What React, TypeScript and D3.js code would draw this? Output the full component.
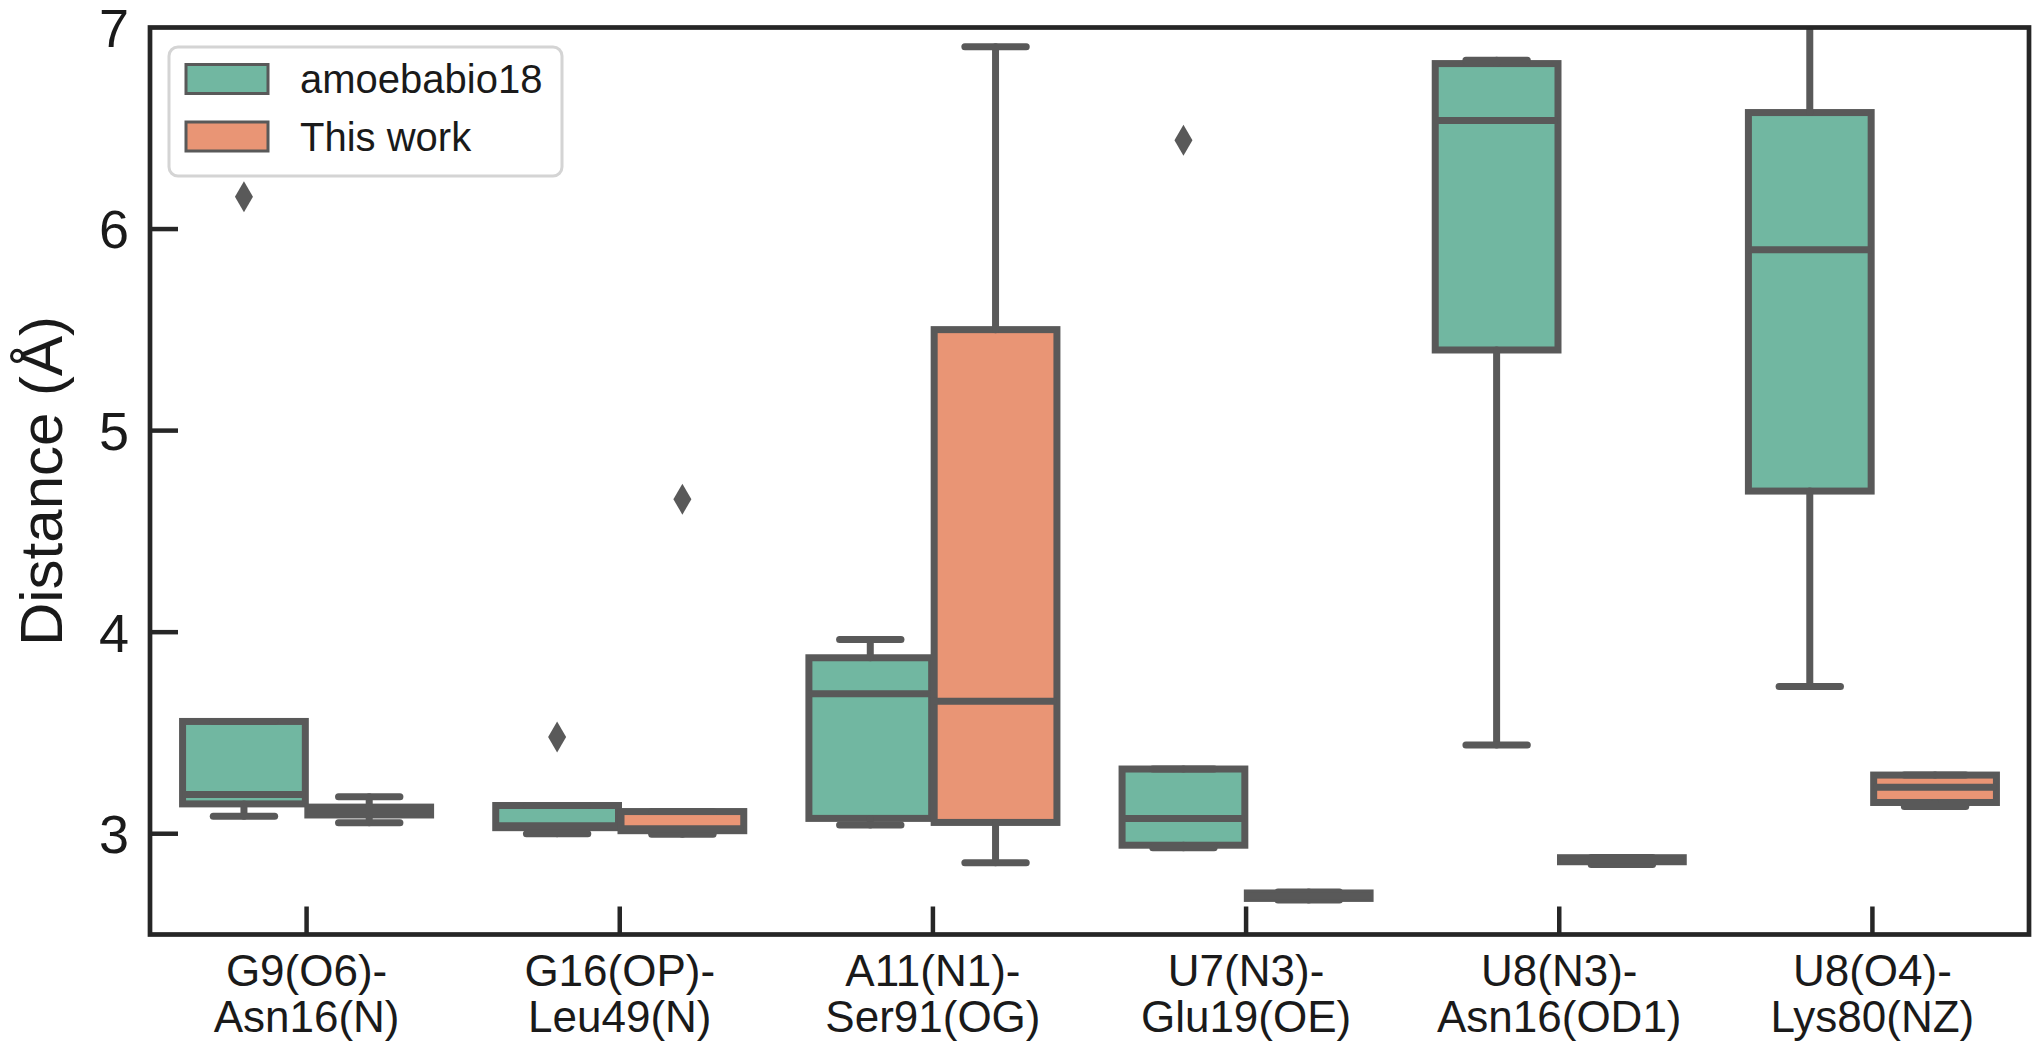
import React from "react";
import * as d3 from "d3";

// ---------- data ----------
const categories = [
  "G9(O6)-\nAsn16(N)",
  "G16(OP)-\nLeu49(N)",
  "A11(N1)-\nSer91(OG)",
  "U7(N3)-\nGlu19(OE)",
  "U8(N3)-\nAsn16(OD1)",
  "U8(O4)-\nLys80(NZ)",
];
const seriesNames = ["amoebabio18", "This work"];

const amoebaWhiskerLow = [3.087, 3.0, 3.043, 2.93, 3.44, 3.73];
const amoebaQ1 = [3.148, 3.03, 3.076, 2.943, 5.4, 4.7];
const amoebaMedian = [3.195, 3.04, 3.694, 3.076, 6.538, 5.897];
const amoebaQ3 = [3.557, 3.14, 3.873, 3.321, 6.821, 6.578];
const amoebaWhiskerHigh = [3.557, 3.14, 3.963, 3.321, 6.837, 7.4];
const amoebaOutliers = [[6.16], [3.48], [], [6.44], [], []];

const thisWorkWhiskerLow = [3.054, 2.998, 2.856, 2.671, 2.847, 3.135];
const thisWorkQ1 = [3.093, 3.015, 3.056, 2.679, 2.861, 3.155];
const thisWorkMedian = [3.11, 3.025, 3.657, 2.69, 2.87, 3.231];
const thisWorkQ3 = [3.132, 3.11, 5.501, 2.706, 2.881, 3.291];
const thisWorkWhiskerHigh = [3.183, 3.11, 6.904, 2.711, 2.882, 3.291];
const thisWorkOutliers = [[], [4.66], [], [], [], []];

const yTicks = [3, 4, 5, 6, 7];
const yDomain = [2.5, 7];
const yLabel = "Distance (Å)";

// ---------- styles ----------
const W = 2040;
const H = 1049;
const M = { left: 150, right: 2029, top: 27.5, bottom: 934.5 };
const COLORS = ["#71b7a1", "#e99575"];
const GRAY = "#595959";
const SPINE = "#262626";
const LW = 7;
const FONT = "'Liberation Sans', Arial, Helvetica, sans-serif";

type BoxStat = {
  cat: string;
  lo: number;
  q1: number;
  med: number;
  q3: number;
  hi: number;
  out: number[];
};

const series: BoxStat[][] = [
  categories.map((c, i) => ({
    cat: c,
    lo: amoebaWhiskerLow[i],
    q1: amoebaQ1[i],
    med: amoebaMedian[i],
    q3: amoebaQ3[i],
    hi: amoebaWhiskerHigh[i],
    out: amoebaOutliers[i],
  })),
  categories.map((c, i) => ({
    cat: c,
    lo: thisWorkWhiskerLow[i],
    q1: thisWorkQ1[i],
    med: thisWorkMedian[i],
    q3: thisWorkQ3[i],
    hi: thisWorkWhiskerHigh[i],
    out: thisWorkOutliers[i],
  })),
];

export default function App() {
  const x = d3.scaleBand<string>().domain(categories).range([M.left, M.right]).padding(0);
  const y = d3.scaleLinear().domain(yDomain).range([M.bottom, M.top]);
  const bw = x.bandwidth();
  const hue = d3
    .scaleBand<number>()
    .domain([0, 1])
    .range([-0.4 * bw, 0.4 * bw]);
  const boxW = hue.bandwidth() * 0.98;
  const diamond = "M0,-15.5 L9,0 L0,15.5 L-9,0 Z";

  return (
    <svg
      width={W}
      height={H}
      style={{ position: "absolute", left: 0, top: 0, display: "block", background: "#fff" }}
    >
      <defs>
        <clipPath id="plotclip">
          <rect x={M.left} y={M.top} width={M.right - M.left} height={M.bottom - M.top} />
        </clipPath>
      </defs>
      <rect x={0} y={0} width={W} height={H} fill="#fff" />

      {/* boxes */}
      <g clipPath="url(#plotclip)">
        {series.map((s, si) =>
          s.map((d, i) => {
            const cx = (x(d.cat) as number) + bw / 2 + (hue(si) as number) + hue.bandwidth() / 2;
            const x0 = cx - boxW / 2;
            const x1 = cx + boxW / 2;
            const capHalf = boxW / 4;
            return (
              <g key={`${si}-${i}`}>
                <rect
                  x={x0}
                  y={y(d.q3)}
                  width={boxW}
                  height={y(d.q1) - y(d.q3)}
                  fill={COLORS[si]}
                  stroke={GRAY}
                  strokeWidth={LW}
                />
                <line x1={cx} x2={cx} y1={y(d.q3)} y2={y(d.hi)} stroke={GRAY} strokeWidth={LW} strokeLinecap="round" />
                <line x1={cx} x2={cx} y1={y(d.q1)} y2={y(d.lo)} stroke={GRAY} strokeWidth={LW} strokeLinecap="round" />
                <line x1={cx - capHalf} x2={cx + capHalf} y1={y(d.hi)} y2={y(d.hi)} stroke={GRAY} strokeWidth={LW} strokeLinecap="round" />
                <line x1={cx - capHalf} x2={cx + capHalf} y1={y(d.lo)} y2={y(d.lo)} stroke={GRAY} strokeWidth={LW} strokeLinecap="round" />
                <line x1={x0} x2={x1} y1={y(d.med)} y2={y(d.med)} stroke={GRAY} strokeWidth={LW} />
                {d.out.map((v, k) => (
                  <path key={k} d={diamond} transform={`translate(${cx},${y(v)})`} fill={GRAY} />
                ))}
              </g>
            );
          })
        )}
      </g>

      {/* y ticks */}
      {yTicks.map((t) => (
        <g key={t}>
          {t < yDomain[1] && (
            <line x1={M.left} x2={M.left + 28} y1={y(t)} y2={y(t)} stroke={SPINE} strokeWidth={4.5} />
          )}
          <text
            x={129}
            y={y(t)}
            dy="0.36em"
            textAnchor="end"
            fontFamily={FONT}
            fontSize={54}
            fill="#1a1a1a"
          >
            {t}
          </text>
        </g>
      ))}

      {/* x ticks */}
      {categories.map((c) => {
        const cx = (x(c) as number) + bw / 2;
        const lines = c.split("\n");
        return (
          <g key={c}>
            <line x1={cx} x2={cx} y1={M.bottom} y2={M.bottom - 28} stroke={SPINE} strokeWidth={4.5} />
            <text textAnchor="middle" fontFamily={FONT} fontSize={44} fill="#1a1a1a">
              {lines.map((l, k) => (
                <tspan key={k} x={cx} y={986 + k * 46}>
                  {l}
                </tspan>
              ))}
            </text>
          </g>
        );
      })}

      {/* spines */}
      <rect
        x={M.left}
        y={M.top}
        width={M.right - M.left}
        height={M.bottom - M.top}
        fill="none"
        stroke={SPINE}
        strokeWidth={4.7}
      />

      {/* y label */}
      <text
        transform={`translate(62, ${(M.top + M.bottom) / 2}) rotate(-90)`}
        textAnchor="middle"
        fontFamily={FONT}
        fontSize={60}
        fill="#1a1a1a"
      >
        {yLabel}
      </text>

      {/* legend */}
      <g>
        <rect x={169} y={47} width={393} height={129} rx={9} fill="#fff" fillOpacity={0.85} stroke="#d4d4d4" strokeWidth={3} />
        {seriesNames.map((n, i) => (
          <g key={n} transform={`translate(0, ${i * 57.5})`}>
            <rect x={186} y={64.5} width={82} height={29} fill={COLORS[i]} stroke={GRAY} strokeWidth={3} />
            <text x={300} y={93} fontFamily={FONT} fontSize={40} fill="#1a1a1a">
              {n}
            </text>
          </g>
        ))}
      </g>
    </svg>
  );
}
